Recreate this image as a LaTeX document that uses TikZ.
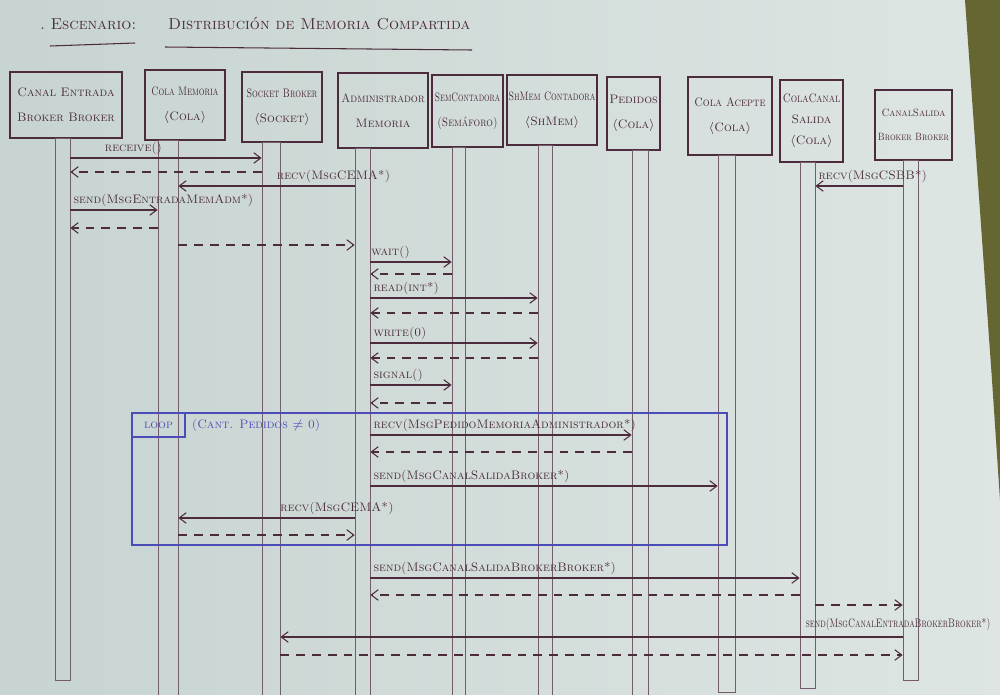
\documentclass[tikz,border=0pt]{standalone}
\usepackage{amssymb,amsmath}
\usepackage{graphicx}
\usepackage{tikz}
\usetikzlibrary{positioning,calc,arrows.meta,fit}
\definecolor{ink}{rgb}{0.30,0.17,0.24}
\definecolor{pencil}{rgb}{0.45,0.36,0.42}
\definecolor{loopblue}{rgb}{0.30,0.30,0.72}
\definecolor{paperl}{rgb}{0.78,0.83,0.82}
\definecolor{paperr}{rgb}{0.87,0.90,0.89}
\definecolor{desk}{rgb}{0.40,0.40,0.20}
\newcommand{\squeeze}[2][0.8]{\scalebox{#1}[1]{#2}}

\begin{document}
\begin{tikzpicture}[x=0.02cm,y=-0.02cm,
hdr/.style={draw=ink,thick,inner sep=0pt},
hdrtxt/.style={align=center,text=ink,inner sep=0pt,font=\fontsize{7}{14}\selectfont\scshape},
bar/.style={draw=pencil,inner sep=0pt},
msg/.style={ink,semithick,-{Straight Barb[length=4pt,width=6pt]}},
ret/.style={ink,semithick,dash pattern=on 5pt off 4pt,-{Straight Barb[length=4pt,width=6pt]}},
lbl/.style={font=\scriptsize\scshape,text=ink,inner sep=1.5pt}]

% paper
\clip (0,0) rectangle (1000,694);
\fill[left color=paperl,right color=paperr] (0,0) rectangle (1000,694);
\fill[desk] (965,0) -- (1000,0) -- (1000,500) -- (992,380) -- cycle;

% title
\node[font=\small\scshape,text=ink,anchor=west] (esc) at (34,24) {.\,\,Escenario:};
\node[font=\small\scshape,text=ink,anchor=west] (topic) at (162,24) {Distribución de Memoria Compartida};
\draw[ink,semithick] (50,46) -- (135,43);
\draw[ink,semithick] (165,47) -- (472,50);

% objects
\node[hdr,fit={(10,72) (122,138)}] (ce) {};
\node[hdr,fit={(145,70) (225,140)}] (cm) {};
\node[hdr,fit={(242,72) (322,142)}] (sk) {};
\node[hdr,fit={(338,73) (428,148)}] (ad) {};
\node[hdr,fit={(432,75) (503,147)}] (se) {};
\node[hdr,fit={(507,75) (597,145)}] (sh) {};
\node[hdr,fit={(607,77) (660,150)}] (pe) {};
\node[hdr,fit={(688,77) (772,155)}] (ca) {};
\node[hdr,fit={(780,80) (843,162)}] (cc) {};
\node[hdr,fit={(875,90) (952,160)}] (cs) {};

\node[hdrtxt] (cet) at (ce) {Canal Entrada\\Broker Broker};
\node[hdrtxt] (cmt) at (cm) {\squeeze[0.74]{Cola Memoria}\\$\langle$Cola$\rangle$};
\node[hdrtxt] (skt) at (sk) {\squeeze[0.74]{Socket Broker}\\$\langle$Socket$\rangle$};
\node[hdrtxt] (adt) at (ad) {\squeeze[0.9]{Administrador}\\Memoria};
\node[hdrtxt] (set) at (se) {\squeeze[0.7]{SemContadora}\\\squeeze[0.85]{(Semáforo)}};
\node[hdrtxt] (sht) at (sh) {\squeeze[0.74]{ShMem Contadora}\\$\langle$ShMem$\rangle$};
\node[hdrtxt] (pet) at (pe) {Pedidos\\$\langle$Cola$\rangle$};
\node[hdrtxt] (cat) at (ca) {\squeeze[0.88]{Cola Acepte}\\$\langle$Cola$\rangle$};
\node[hdrtxt,font=\fontsize{7}{12}\selectfont\scshape] (cct) at (cc) {\squeeze[0.82]{ColaCanal}\\Salida\\$\langle$Cola$\rangle$};
\node[hdrtxt,font=\fontsize{6}{14}\selectfont\scshape] (cst) at (cs) {\squeeze[0.95]{CanalSalida}\\\squeeze[0.85]{Broker Broker}};

% lifelines
\node[bar,fit={(55,138) (70,680)}] (bce) {};
\node[bar,fit={(158,140) (178,700)}] (bcm) {};
\node[bar,fit={(262,142) (280,700)}] (bsk) {};
\node[bar,fit={(355,148) (370,700)}] (bad) {};
\node[bar,fit={(452,147) (465,700)}] (bse) {};
\node[bar,fit={(538,145) (552,700)}] (bsh) {};
\node[bar,fit={(632,150) (648,700)}] (bpe) {};
\node[bar,fit={(718,155) (735,692)}] (bca) {};
\node[bar,fit={(800,162) (815,688)}] (bcc) {};
\node[bar,fit={(903,160) (918,680)}] (bcs) {};

% loop frame
\node[draw=loopblue,semithick,inner sep=0pt,fit={(132,413) (727,545)}] (lp) {};
\node[draw=loopblue,semithick,inner sep=0pt,fit={(132,413) (185,437)}] (lptag) {};
\node[text=loopblue,font=\scriptsize\scshape,inner sep=0pt] (lptagt) at (lptag) {loop};
\node[right=0.2 of lptag,text=loopblue,font=\scriptsize\scshape] (guard) {(Cant. Pedidos $\neq$ 0)};

% rows
\coordinate (r1) at (0,158); \coordinate (r2) at (0,172); \coordinate (r3) at (0,186);
\coordinate (r4) at (0,210); \coordinate (r5) at (0,228); \coordinate (r6) at (0,245);
\coordinate (r7) at (0,262); \coordinate (r8) at (0,274); \coordinate (r9) at (0,298);
\coordinate (r10) at (0,313); \coordinate (r11) at (0,343); \coordinate (r12) at (0,358);
\coordinate (r13) at (0,385); \coordinate (r14) at (0,403); \coordinate (r15) at (0,435);
\coordinate (r16) at (0,452); \coordinate (r17) at (0,486); \coordinate (r18) at (0,518);
\coordinate (r19) at (0,535); \coordinate (r20) at (0,578); \coordinate (r21) at (0,595);
\coordinate (r22) at (0,605); \coordinate (r23) at (0,637); \coordinate (r24) at (0,655);

% messages
\draw[msg] (bce.east |- r1) -- (bsk.west |- r1) node[lbl,pos=0.33,above] {receive()};
\draw[ret] (bsk.west |- r2) -- (bce.east |- r2);
\draw[msg] (bad.west |- r3) -- (bcm.east |- r3) node[lbl,pos=0.12,above] {recv(MsgCEMA*)};
\draw[msg] (bcs.west |- r3) -- (bcc.east |- r3) node[lbl,at end,anchor=south west] {recv(MsgCSBB*)};
\draw[msg] (bce.east |- r4) -- (bcm.west |- r4) node[lbl,at start,anchor=south west] {send(MsgEntradaMemAdm*)};
\draw[ret] (bcm.west |- r5) -- (bce.east |- r5);
\draw[ret] (bcm.east |- r6) -- (bad.west |- r6);
\draw[msg] (bad.east |- r7) -- (bse.west |- r7) node[lbl,near start,above] {wait()};
\draw[ret] (bse.west |- r8) -- (bad.east |- r8);
\draw[msg] (bad.east |- r9) -- (bsh.west |- r9) node[lbl,at start,anchor=south west] {read(int*)};
\draw[ret] (bsh.west |- r10) -- (bad.east |- r10);
\draw[msg] (bad.east |- r11) -- (bsh.west |- r11) node[lbl,at start,anchor=south west] {write(0)};
\draw[ret] (bsh.west |- r12) -- (bad.east |- r12);
\draw[msg] (bad.east |- r13) -- (bse.west |- r13) node[lbl,at start,anchor=south west] {signal()};
\draw[ret] (bse.west |- r14) -- (bad.east |- r14);
\draw[msg] (bad.east |- r15) -- (bpe.west |- r15) node[lbl,at start,anchor=south west] {recv(MsgPedidoMemoriaAdministrador*)};
\draw[ret] (bpe.west |- r16) -- (bad.east |- r16);
\draw[msg] (bad.east |- r17) -- (bca.west |- r17) node[lbl,at start,anchor=south west] {send(MsgCanalSalidaBroker*)};
\draw[msg] (bad.west |- r18) -- (bcm.east |- r18) node[lbl,pos=0.1,above] {recv(MsgCEMA*)};
\draw[ret] (bcm.east |- r19) -- (bad.west |- r19);
\draw[msg] (bad.east |- r20) -- (bcc.west |- r20) node[lbl,at start,anchor=south west] {send(MsgCanalSalidaBrokerBroker*)};
\draw[ret] (bcc.west |- r21) -- (bad.east |- r21);
\draw[ret] (bcc.east |- r22) -- (bcs.west |- r22);
\draw[msg] (bcs.west |- r23) -- (bsk.east |- r23) node[lbl,at start,anchor=south west,xshift=-2.0cm,yshift=2pt] {\squeeze[0.72]{send(MsgCanalEntradaBrokerBroker*)}};
\draw[ret] (bsk.east |- r24) -- (bcs.west |- r24);
\end{tikzpicture}
\end{document}
